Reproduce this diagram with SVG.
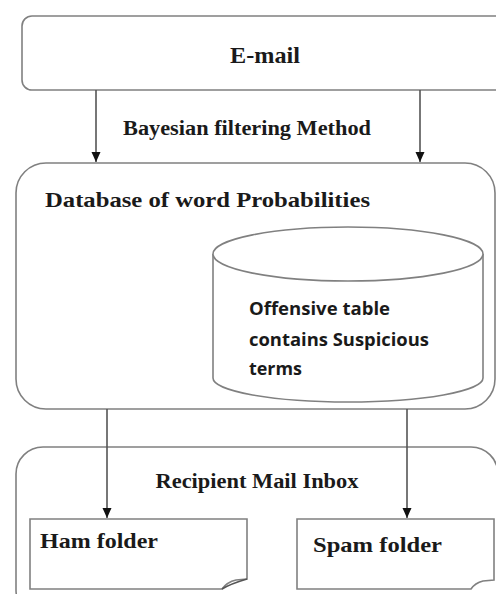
<svg xmlns="http://www.w3.org/2000/svg" width="496" height="594" viewBox="0 0 496 594">
<style>
.box{fill:#fff;stroke:#808080;stroke-width:1.6}
.line{stroke:#555;stroke-width:1.6;fill:none}
.serif{font-family:"Liberation Serif","Times New Roman",serif;font-weight:bold;fill:#1a1a1a}
.sans{font-family:"Open Sans","Liberation Sans",Arial,sans-serif;font-weight:bold;fill:#1a1a1a}
</style>
<defs>
<marker id="arr" markerWidth="10" markerHeight="12" refX="10" refY="4.5" orient="auto" markerUnits="userSpaceOnUse">
<path d="M0,0 L10,4.5 L0,9 Z" fill="#111"/>
</marker>
</defs>
<rect width="496" height="594" fill="#fff"/>
<g id="email">
<rect class="box" x="22" y="16" width="490" height="74" rx="10"/>
<text class="serif" x="265" y="63" font-size="23" text-anchor="middle" textLength="70" lengthAdjust="spacingAndGlyphs">E-mail</text>
</g>
<g id="database">
<rect class="box" x="16" y="163" width="479" height="246" rx="30"/>
<text class="serif" x="45" y="207" font-size="21" textLength="325" lengthAdjust="spacingAndGlyphs">Database of word Probabilities</text>
</g>
<g id="offensive-table">
<path class="box" d="M213,254 V378 A135,24 0 0 0 483,378 V254"/>
<ellipse class="box" cx="348" cy="254" rx="135" ry="27"/>
<text class="sans" font-size="18">
<tspan x="249" y="315" textLength="141" lengthAdjust="spacingAndGlyphs">Offensive table</tspan>
<tspan x="249" y="346" textLength="180" lengthAdjust="spacingAndGlyphs">contains Suspicious</tspan>
<tspan x="249" y="375" textLength="53" lengthAdjust="spacingAndGlyphs">terms</tspan>
</text>
</g>
<g id="inbox">
<rect class="box" x="16" y="447" width="482" height="170" rx="27"/>
<text class="serif" x="257" y="488" font-size="20" text-anchor="middle" textLength="203" lengthAdjust="spacingAndGlyphs">Recipient Mail Inbox</text>
</g>
<g id="ham-folder">
<path class="box" d="M30,519 H247 V579 L236,580 Q227,582 222,589 H30 Z"/>
<path class="line" d="M222,589 Q230,584 247,579" stroke="#808080"/>
<text class="serif" x="40" y="548" font-size="22" textLength="118" lengthAdjust="spacingAndGlyphs">Ham folder</text>
</g>
<g id="spam-folder">
<path class="box" d="M297,519 H494 V580 L483,581 Q475,583 471,589 H297 Z"/>
<text class="serif" x="313" y="552" font-size="22" textLength="129" lengthAdjust="spacingAndGlyphs">Spam folder</text>
</g>
<g id="connectors">
<line class="line" x1="96" y1="90" x2="96" y2="162" marker-end="url(#arr)"/>
<line class="line" x1="420" y1="90" x2="420" y2="162" marker-end="url(#arr)"/>
<text class="serif" x="247" y="135" font-size="20" text-anchor="middle" textLength="248" lengthAdjust="spacingAndGlyphs">Bayesian filtering Method</text>
<line class="line" x1="107" y1="409" x2="107" y2="518" marker-end="url(#arr)"/>
<line class="line" x1="407" y1="409" x2="407" y2="518" marker-end="url(#arr)"/>
</g>
</svg>
